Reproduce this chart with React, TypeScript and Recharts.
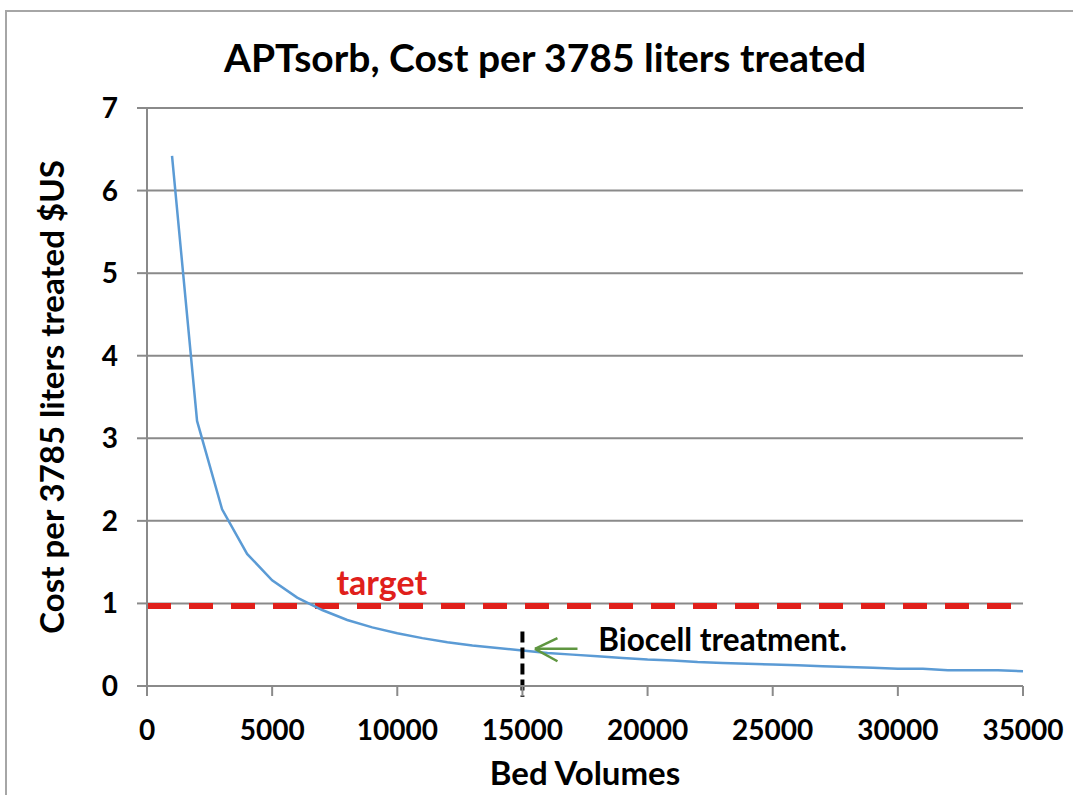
import React from 'react';
import { LineChart, Line, XAxis, YAxis, CartesianGrid, ReferenceLine, ReferenceDot, Label } from 'recharts';

const bedVolumes = [1000, 2000, 3000, 4000, 5000, 6000, 7000, 8000, 9000, 10000, 11000, 12000, 13000, 14000, 15000, 16000, 17000, 18000, 19000, 20000, 21000, 22000, 23000, 24000, 25000, 26000, 27000, 28000, 29000, 30000, 31000, 32000, 33000, 34000, 35000];
const costs = [6.42, 3.21, 2.14, 1.6, 1.28, 1.07, 0.92, 0.8, 0.71, 0.64, 0.58, 0.53, 0.49, 0.46, 0.43, 0.4, 0.38, 0.36, 0.34, 0.32, 0.31, 0.29, 0.28, 0.27, 0.26, 0.25, 0.24, 0.23, 0.22, 0.21, 0.21, 0.19, 0.19, 0.19, 0.18];
const xTicks = [0, 5000, 10000, 15000, 20000, 25000, 30000, 35000];
const yTicks = [0, 1, 2, 3, 4, 5, 6, 7];
const targetValue = 0.97;
const biocellBV = 15000;

const data = bedVolumes.map((bv, i) => ({ bv, cost: costs[i] }));

const FONT = 'Lato, "Open Sans", sans-serif';
const GRID = '#8a8a8a';

export default function App() {
  return (
    <div style={{ position: 'absolute', left: 0, top: 0, width: 1073, height: 795, background: '#fff', overflow: 'hidden', fontFamily: FONT }}>
      <div style={{ position: 'absolute', left: 5, top: 10, width: 1200, height: 900, borderLeft: '2px solid #a6a6a6', borderTop: '2px solid #a6a6a6' }} />
      <div style={{ position: 'absolute', left: 0, top: 34, width: 1090, textAlign: 'center', fontSize: 39, lineHeight: 1.2, fontWeight: 700, color: '#000', fontFamily: FONT, whiteSpace: 'nowrap' }}>
        APTsorb, Cost per 3785 liters treated
      </div>
      <div style={{ position: 'absolute', left: 0, top: 0 }}>
        <LineChart width={1073} height={795} data={data} margin={{ top: 108, right: 50, left: 0, bottom: 0 }}>
          <CartesianGrid horizontal={true} vertical={false} stroke={GRID} strokeWidth={2} />
          <XAxis
            dataKey="bv"
            type="number"
            domain={[0, 35000]}
            ticks={xTicks}
            interval={0}
            height={109}
            stroke={GRID}
            strokeWidth={2}
            tickSize={10}
            tickMargin={24}
            tick={{ fill: '#000', fontSize: 28, fontWeight: 700, fontFamily: FONT }}
          >
            <Label value="Bed Volumes" position="insideBottom" offset={10} style={{ fill: '#000', fontSize: 33, fontWeight: 700, fontFamily: FONT }} />
          </XAxis>
          <YAxis
            type="number"
            domain={[0, 7]}
            ticks={yTicks}
            interval={0}
            width={147}
            stroke={GRID}
            strokeWidth={2}
            tickSize={10}
            tickMargin={19}
            tick={{ fill: '#000', fontSize: 28, fontWeight: 700, fontFamily: FONT }}
          >
            <Label value="Cost per 3785 liters treated $US" angle={-90} position="insideLeft" offset={52} style={{ fill: '#000', fontSize: 33, fontWeight: 700, fontFamily: FONT, textAnchor: 'middle' }} />
          </YAxis>
          <ReferenceLine y={targetValue} stroke="#e0201b" strokeWidth={6} strokeDasharray="24 18" />
          <ReferenceDot x={9380} y={1.25} r={0} fill="none" stroke="none">
            <Label value="target" position="center" style={{ fill: '#e0201b', fontSize: 34, fontWeight: 700, fontFamily: FONT }} />
          </ReferenceDot>
          <Line type="linear" dataKey="cost" stroke="#5b9bd5" strokeWidth={2.5} dot={false} isAnimationActive={false} />
          <ReferenceLine segment={[{ x: biocellBV, y: 0.66 }, { x: biocellBV, y: -0.13 }]} ifOverflow="visible" stroke="#000" strokeWidth={4} strokeDasharray="11 5" />
          <ReferenceLine segment={[{ x: 17200, y: 0.45 }, { x: 15500, y: 0.45 }]} ifOverflow="visible" stroke="#5f9640" strokeWidth={2.5} />
          <ReferenceLine segment={[{ x: 15500, y: 0.45 }, { x: 16400, y: 0.58 }]} ifOverflow="visible" stroke="#5f9640" strokeWidth={2.5} />
          <ReferenceLine segment={[{ x: 15500, y: 0.45 }, { x: 16400, y: 0.30 }]} ifOverflow="visible" stroke="#5f9640" strokeWidth={2.5} />
          <ReferenceDot x={23000} y={0.56} r={0} fill="none" stroke="none">
            <Label value="Biocell treatment." position="center" style={{ fill: '#000', fontSize: 31.5, fontWeight: 700, fontFamily: FONT }} />
          </ReferenceDot>
        </LineChart>
      </div>
    </div>
  );
}
